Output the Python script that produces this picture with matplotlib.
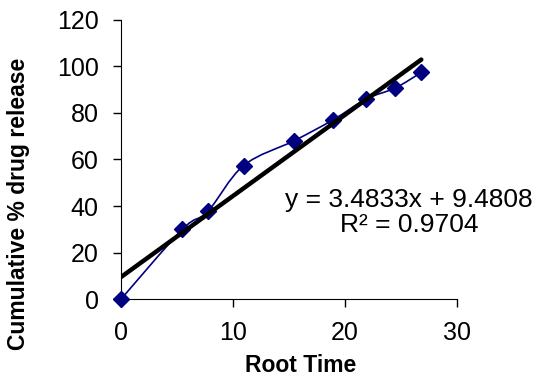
"""
Root time release plot with linear trendline
"""

import numpy as np
import matplotlib.pyplot as plt
from matplotlib.path import Path
from matplotlib.patches import PathPatch

plt.rcParams["font.family"] = ["Liberation Sans", "DejaVu Sans"]

root_time = [0, 5.48, 7.75, 10.95, 15.49, 18.97, 21.91, 24.49, 26.83]
cum_release = [0, 30.0, 37.7, 57.4, 68.1, 77.1, 86.0, 90.7, 97.4]
slope = 3.4833
intercept = 9.4808
r_squared = 0.9704

fig = plt.figure(figsize=(5.38, 3.82), dpi=100)
ax = fig.add_axes([0.225, 0.217, 0.624, 0.731])

# smoothed line like the spreadsheet (cubic bezier through the points)
pts = np.column_stack([root_time, cum_release])
verts = [pts[0]]
codes = [Path.MOVETO]
for i in range(len(pts) - 1):
    p0 = pts[max(i - 1, 0)]
    p1 = pts[i]
    p2 = pts[i + 1]
    p3 = pts[min(i + 2, len(pts) - 1)]
    verts += [p1 + (p2 - p0) / 6, p2 - (p3 - p1) / 6, p2]
    codes += [Path.CURVE4] * 3
ax.add_patch(PathPatch(Path(verts, codes), facecolor="none",
                       edgecolor="#000080", linewidth=1.2, zorder=2))
ax.plot(root_time, cum_release, linestyle="none", marker="D", ms=8,
        color="#000080", zorder=3, clip_on=False)

# trendline
xt = np.array([root_time[0], root_time[-1]])
ax.plot(xt, slope * xt + intercept, color="black", linewidth=3.2,
        solid_capstyle="round", zorder=4)

ax.set_xlim(0, 30)
ax.set_ylim(0, 120)
ax.set_xticks([0, 10, 20, 30])
ax.set_yticks(range(0, 121, 20))
for s in ["top", "right"]:
    ax.spines[s].set_visible(False)
ax.tick_params(labelsize=18, length=6, width=1, direction="out", pad=10)
ax.set_xlabel("Root Time", fontsize=16.5, fontweight="bold", va="center")
ax.xaxis.set_label_coords(0.536, -0.237)
ax.set_ylabel("Cumulative % drug release", fontsize=16.5, fontweight="bold",
              va="center")
ax.yaxis.set_label_coords(-0.304, 0.34)

fig.text(0.760, 0.443, f"y = {slope}x + {intercept}\nR\u00b2 = {r_squared}",
         ha="center", va="center", fontsize=19, linespacing=1.05)

fig.savefig("out.png", dpi=100)
plt.close()
